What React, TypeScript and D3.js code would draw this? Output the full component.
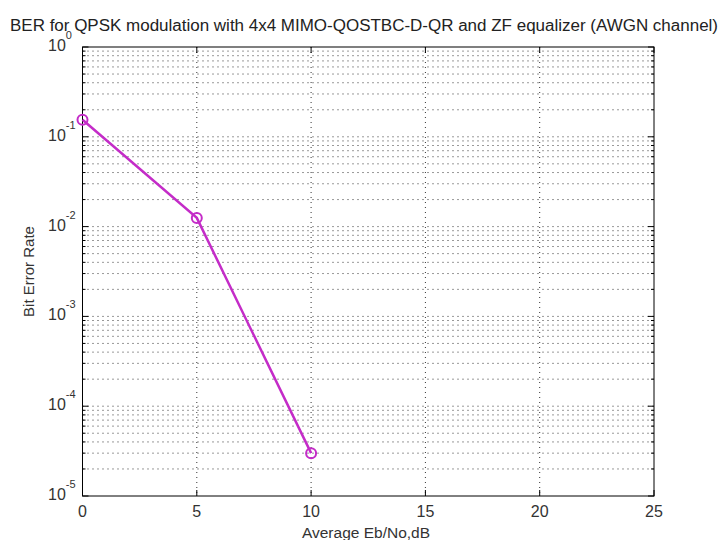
import React from "react";
import * as d3 from "d3";

const snr = [0, 5, 10];
const ber = [0.155, 0.0125, 3.0e-5];
const xTicks = [0, 5, 10, 15, 20, 25];
const yDecades = [0, -1, -2, -3, -4, -5];

const W = 723, H = 540;
const L = 82.5, R = 654, T = 47, B = 496;

export default function App() {
  const x = d3.scaleLinear().domain([0, 25]).range([L, R]);
  const y = d3.scaleLog().domain([1e-5, 1]).range([B, T]);
  const minor: number[] = [];
  for (let e = -5; e < 0; e++) for (let m = 2; m <= 9; m++) minor.push(m * Math.pow(10, e));
  const line = d3.line<number>().x((_, i) => x(snr[i])).y((d) => y(d));
  const font = "Arial, 'Liberation Sans', Helvetica, sans-serif";
  const col = "#c42cc8";
  return (
    <svg width={W} height={H} style={{ position: "absolute", left: 0, top: 0, background: "#fff" }} fontFamily={font}>
      <rect x={0} y={0} width={W} height={H} fill="#fff" />
      {/* grid */}
      <g stroke="#333" strokeWidth={1} strokeDasharray="1,4">
        {xTicks.slice(1, -1).map((t) => (
          <line key={"gx" + t} x1={x(t)} x2={x(t)} y1={T} y2={B} />
        ))}
        {yDecades.slice(1, -1).map((e) => (
          <line key={"gy" + e} x1={L} x2={R} y1={y(Math.pow(10, e))} y2={y(Math.pow(10, e))} />
        ))}
        {minor.map((v, i) => (
          <line key={"gm" + i} x1={L} x2={R} y1={y(v)} y2={y(v)} />
        ))}
      </g>
      {/* ticks */}
      <g stroke="#000" strokeWidth={1}>
        {xTicks.map((t) => (
          <g key={"tx" + t}>
            <line x1={x(t)} x2={x(t)} y1={B} y2={B - 6} />
            <line x1={x(t)} x2={x(t)} y1={T} y2={T + 6} />
          </g>
        ))}
        {yDecades.map((e) => (
          <g key={"ty" + e}>
            <line x1={L} x2={L + 6} y1={y(Math.pow(10, e))} y2={y(Math.pow(10, e))} />
            <line x1={R} x2={R - 6} y1={y(Math.pow(10, e))} y2={y(Math.pow(10, e))} />
          </g>
        ))}
        {minor.map((v, i) => (
          <g key={"tm" + i}>
            <line x1={L} x2={L + 3} y1={y(v)} y2={y(v)} />
            <line x1={R} x2={R - 3} y1={y(v)} y2={y(v)} />
          </g>
        ))}
      </g>
      <rect x={L} y={T} width={R - L} height={B - T} fill="none" stroke="#000" strokeWidth={1} />
      {/* data */}
      <path d={line(ber) || ""} fill="none" stroke={col} strokeWidth={2.5} />
      {ber.map((v, i) => (
        <circle key={"p" + i} cx={x(snr[i])} cy={y(v)} r={5} fill="none" stroke={col} strokeWidth={2} />
      ))}
      {/* x tick labels */}
      <g fontSize={16} fill="#333" textAnchor="middle">
        {xTicks.map((t) => (
          <text key={"lx" + t} x={x(t)} y={B + 21}>{t}</text>
        ))}
      </g>
      {/* y tick labels */}
      <g fontSize={16} fill="#333">
        {yDecades.map((e) => (
          <text key={"ly" + e} x={48} y={y(Math.pow(10, e)) + 4}>
            10<tspan dy={-12} fontSize={11}>{e}</tspan>
          </text>
        ))}
      </g>
      <text x={364} y={31} fontSize={16} textAnchor="middle" fill="#222" textLength={708} lengthAdjust="spacingAndGlyphs">
        BER for QPSK modulation with 4x4 MIMO-QOSTBC-D-QR and ZF equalizer (AWGN channel)
      </text>
      <text x={366} y={538} fontSize={15.5} textAnchor="middle" fill="#333">Average Eb/No,dB</text>
      <text transform={`translate(34,${(T + B) / 2}) rotate(-90)`} fontSize={15} textAnchor="middle" fill="#333">Bit Error Rate</text>
    </svg>
  );
}
